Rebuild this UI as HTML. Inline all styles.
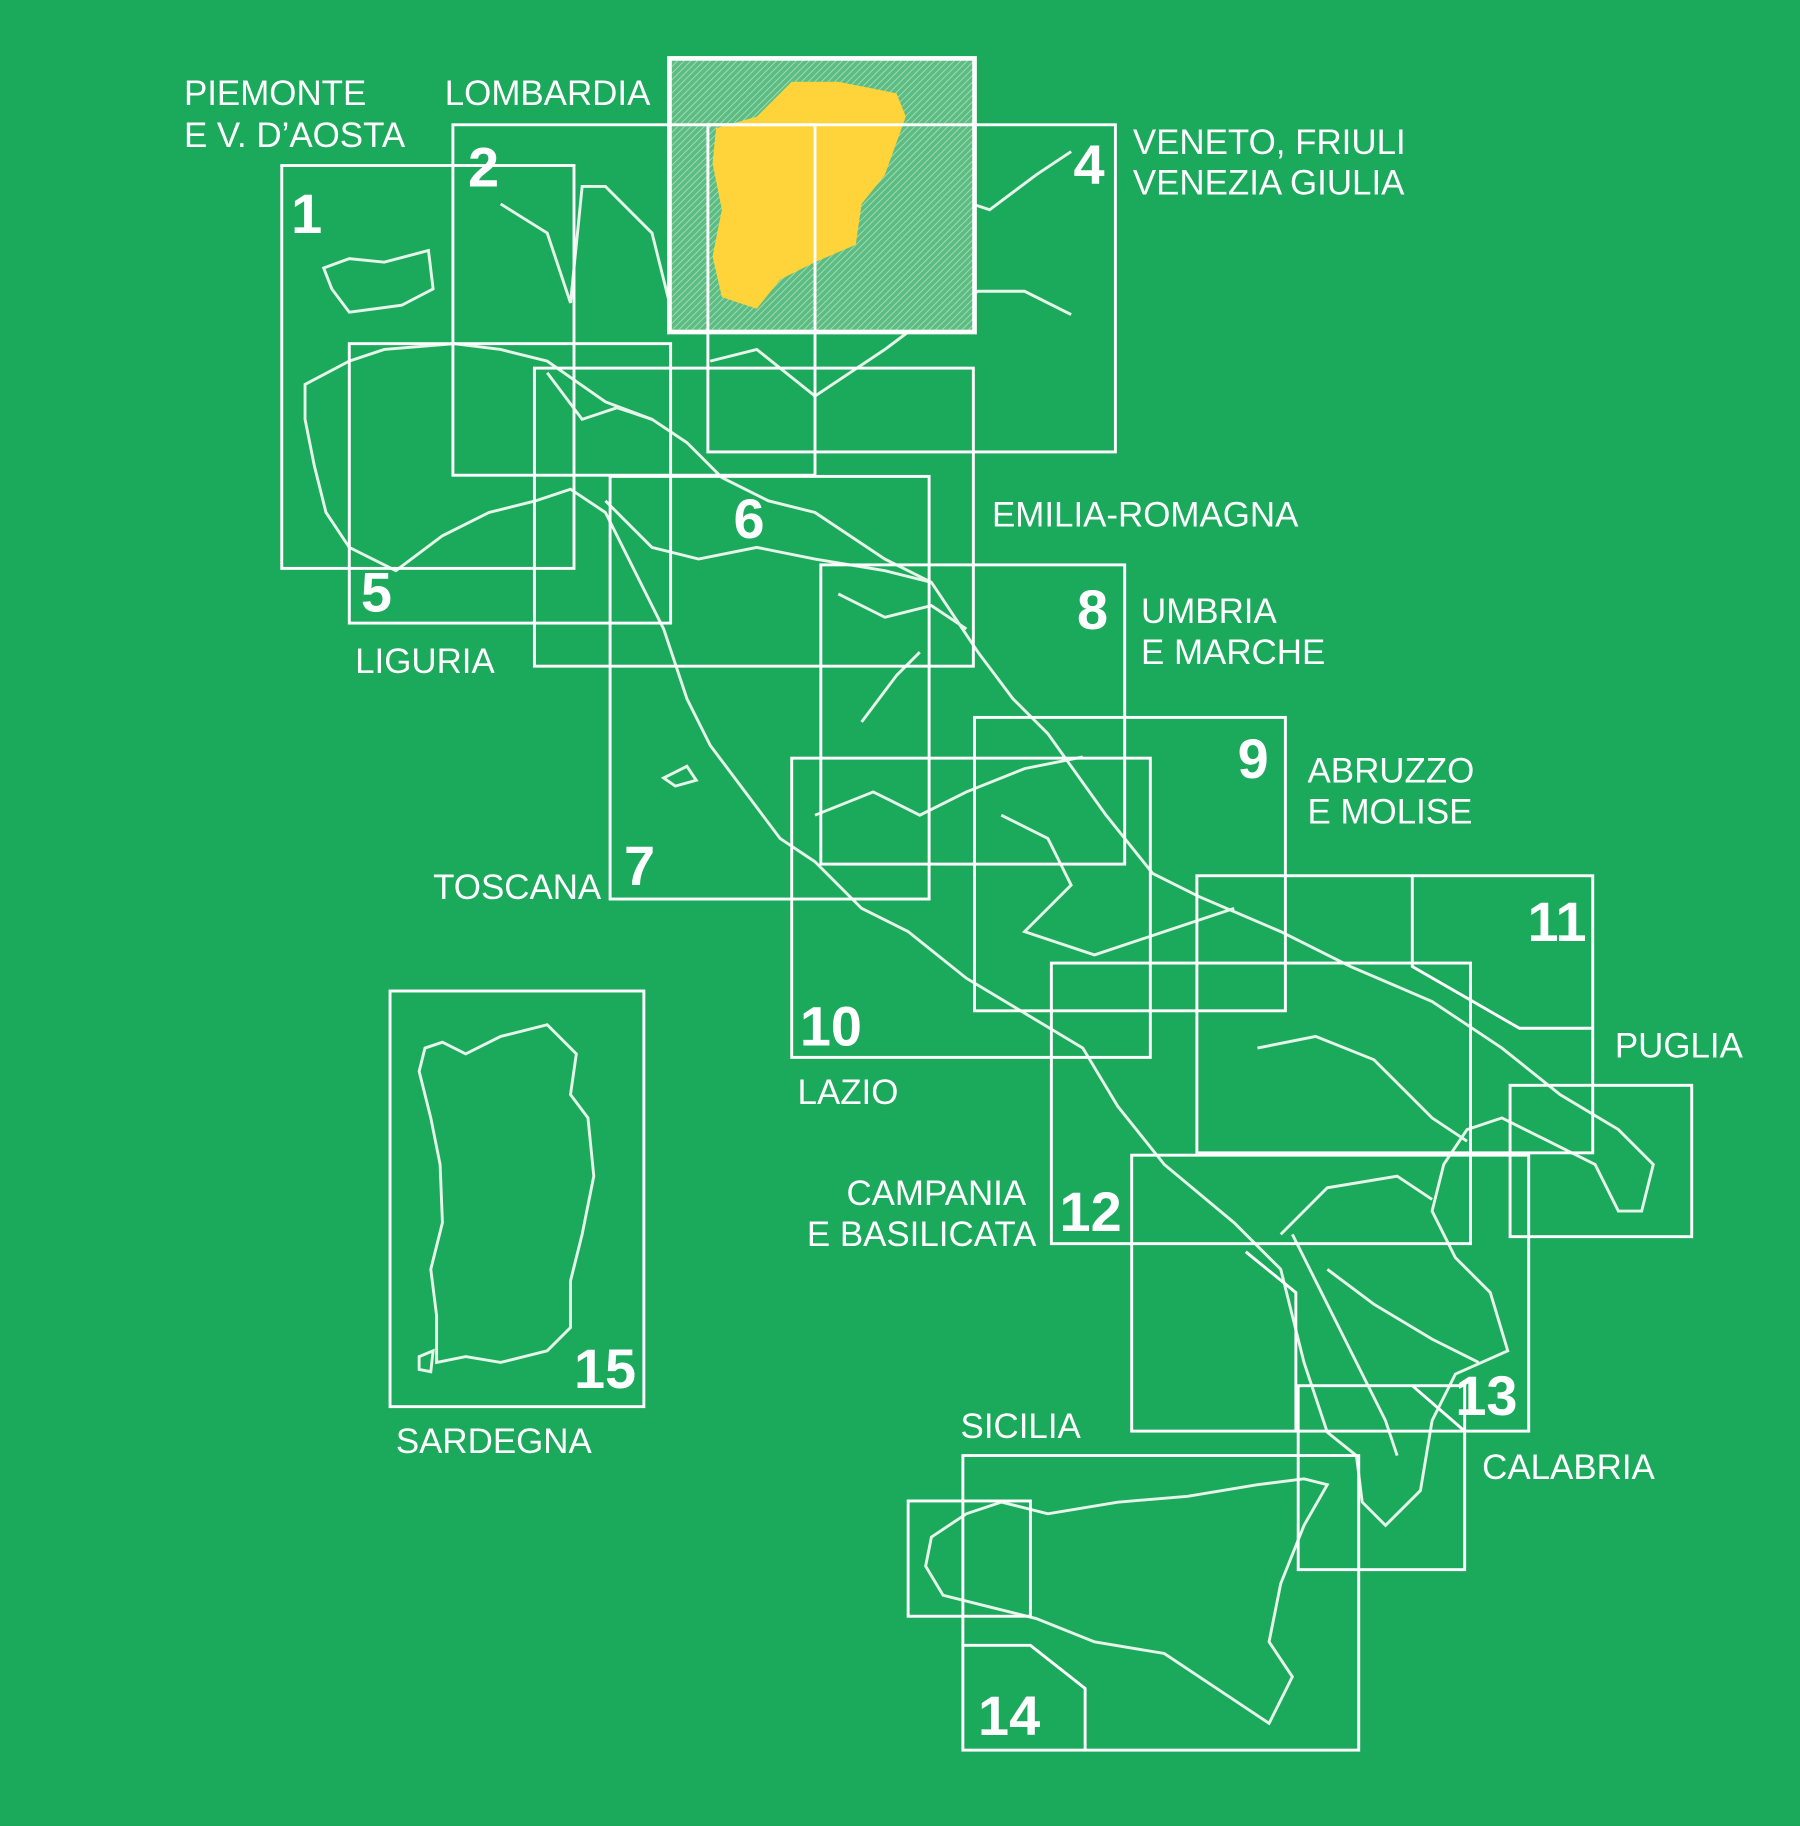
<!DOCTYPE html>
<html><head><meta charset="utf-8"><style>
html,body{margin:0;padding:0;background:#1ba95b;}
svg{display:block}
text{font-family:"Liberation Sans",sans-serif;fill:#fff}
.l{font-size:30px}
.n{font-size:48px;font-weight:bold}
</style></head><body>
<svg width="1800" height="1826" viewBox="0 0 1546 1568" xmlns="http://www.w3.org/2000/svg">
<defs>
<pattern id="h" width="4" height="4" patternUnits="userSpaceOnUse" patternTransform="rotate(45)">
<rect width="4" height="4" fill="#5cbd82"/><line x1="0" y1="0" x2="0" y2="4" stroke="#a9dcbc" stroke-width="1.5"/></pattern>
</defs>
<rect width="1546" height="1568" fill="#1ba95b"/>
<g fill="none" stroke="#e6f5ea" stroke-width="2.5">
<!-- coastline approx -->
<path d="M278,230 L300,222 L330,225 L368,215 L372,248 L345,262 L300,268 L285,248 Z"/>
<path d="M262,330 L300,310 L330,300 L390,295 L430,300 L470,310 L520,345 L560,360 L590,380 L620,410 L660,430 L700,440 L760,480 L800,500 L840,560 L870,600 L900,630 L950,700 L990,750 L1030,770 L1100,800 L1160,830 L1230,860 L1290,900 L1340,940 L1390,970 L1420,1000 L1410,1040 L1390,1040 L1370,1000 L1330,980 L1290,960 L1260,970 L1240,1000 L1230,1040 L1250,1080 L1280,1110 L1295,1160 L1250,1180 L1230,1220 L1220,1280 L1190,1310 L1170,1290 L1165,1250 L1140,1230 L1120,1170 L1100,1090 L1060,1050 L1000,1000 L960,950 L930,900 L880,870 L830,840 L780,800 L740,780 L700,740 L670,720 L640,680 L610,640 L590,600 L570,540 L540,480 L520,440 L490,420 L460,430 L420,440 L380,460 L340,490 L300,470 L280,440 L270,400 L262,360 Z"/>
<path d="M430,175 L470,200 L490,260 L500,160 L520,160 L560,200 L575,260 M470,320 L500,360 L530,350 L560,360 M610,310 L650,300 L700,340 L760,300 L800,270 L840,250 L880,250 L920,270 M780,180 L820,170 L850,180 L890,150 L920,130"/>
<path d="M520,430 L560,470 L600,480 L650,470 L700,480 L760,490 L800,500 M720,510 L760,530 L800,520 L830,540 M740,620 L770,580 L790,560 M700,700 L750,680 L790,700 L830,680 L880,660 L930,650 M860,700 L900,720 L920,760 L880,800 L940,820 L1000,800 L1060,780 M1080,900 L1130,890 L1180,910 L1230,960 L1260,980 M1100,1060 L1140,1020 L1200,1010 L1230,1030 M1140,1090 L1180,1120 L1230,1150 L1270,1170 M1110,1060 L1130,1100 L1160,1160 L1190,1220 L1200,1250"/>
<path d="M570,668 L590,658 L598,670 L580,675 Z"/>
<!-- Sardinia -->
<path d="M365,900 L380,895 L400,905 L430,890 L470,880 L495,905 L490,940 L505,960 L510,1010 L500,1060 L490,1100 L490,1140 L470,1160 L430,1170 L400,1165 L375,1170 L375,1130 L370,1090 L380,1050 L378,1000 L370,960 L360,920 Z"/>
<path d="M360,1165 L372,1160 L370,1178 L360,1176 Z"/>
<!-- Sicily -->
<path d="M800,1320 L830,1300 L860,1290 L900,1300 L960,1290 L1020,1285 L1080,1275 L1120,1270 L1140,1275 L1120,1310 L1100,1360 L1090,1410 L1110,1440 L1090,1480 L1060,1460 L1000,1420 L940,1410 L890,1390 L850,1380 L810,1370 L795,1345 Z"/>
</g>
<!-- Box 3 hatched -->
<rect x="575" y="50" width="262" height="235" fill="url(#h)" stroke="#fff" stroke-width="4"/>
<path d="M615,110 L650,100 L680,70 L720,70 L770,80 L778,100 L760,150 L740,175 L735,210 L700,225 L670,240 L650,265 L620,255 L612,220 L620,180 L612,140 Z" fill="#ffd33a"/>
<g fill="none" stroke="#fff" stroke-width="2.5">
<rect x="242" y="142" width="251" height="346"/>
<rect x="389" y="107" width="311" height="301"/>
<rect x="608" y="107" width="350" height="281"/>
<rect x="300" y="295" width="276" height="240"/>
<rect x="459" y="316" width="377" height="256"/>
<rect x="524" y="409" width="274" height="363"/>
<rect x="705" y="485" width="261" height="257"/>
<rect x="837" y="616" width="267" height="252"/>
<rect x="680" y="651" width="308" height="257"/>
<rect x="1028" y="752" width="340" height="238"/>
<path d="M1213,752 L1213,830 L1305,883 L1368,883"/>
<rect x="903" y="827" width="360" height="241"/>
<rect x="972" y="992" width="341" height="237"/>
<path d="M1070,1075 L1113,1110 L1113,1229"/>
<rect x="1297" y="932" width="156" height="130"/>
<rect x="1115" y="1190" width="143" height="158"/>
<path d="M1213,1190 L1258,1229"/>
<rect x="827" y="1250" width="340" height="253"/>
<rect x="780" y="1289" width="105" height="99"/>
<path d="M827,1413 L885,1413 L932,1450 L932,1503"/>
<rect x="335" y="851" width="218" height="357"/>
</g>
<g class="l">
<text x="158" y="90">PIEMONTE</text><text x="158" y="126">E V. D’AOSTA</text>
<text x="382" y="90">LOMBARDIA</text>
<text x="973" y="132">VENETO, FRIULI</text><text x="973" y="167">VENEZIA GIULIA</text>
<text x="852" y="452">EMILIA-ROMAGNA</text>
<text x="305" y="578">LIGURIA</text>
<text x="980" y="535">UMBRIA</text><text x="980" y="570">E MARCHE</text>
<text x="1123" y="672">ABRUZZO</text><text x="1123" y="707">E MOLISE</text>
<text x="372" y="772">TOSCANA</text>
<text x="685" y="948">LAZIO</text>
<text x="1387" y="908">PUGLIA</text>
<text x="727" y="1035">CAMPANIA</text><text x="693" y="1070">E BASILICATA</text>
<text x="1273" y="1270">CALABRIA</text>
<text x="825" y="1235">SICILIA</text>
<text x="340" y="1248">SARDEGNA</text>
</g>
<g class="n">
<text x="250" y="200">1</text><text x="402" y="160">2</text><text x="922" y="158">4</text>
<text x="310" y="525">5</text><text x="630" y="462">6</text><text x="536" y="760">7</text>
<text x="925" y="540">8</text><text x="1063" y="668">9</text><text x="687" y="898">10</text>
<text x="1312" y="808">11</text><text x="910" y="1057">12</text><text x="1250" y="1215">13</text>
<text x="840" y="1490">14</text><text x="493" y="1192">15</text>
</g>
</svg>
</body></html>
